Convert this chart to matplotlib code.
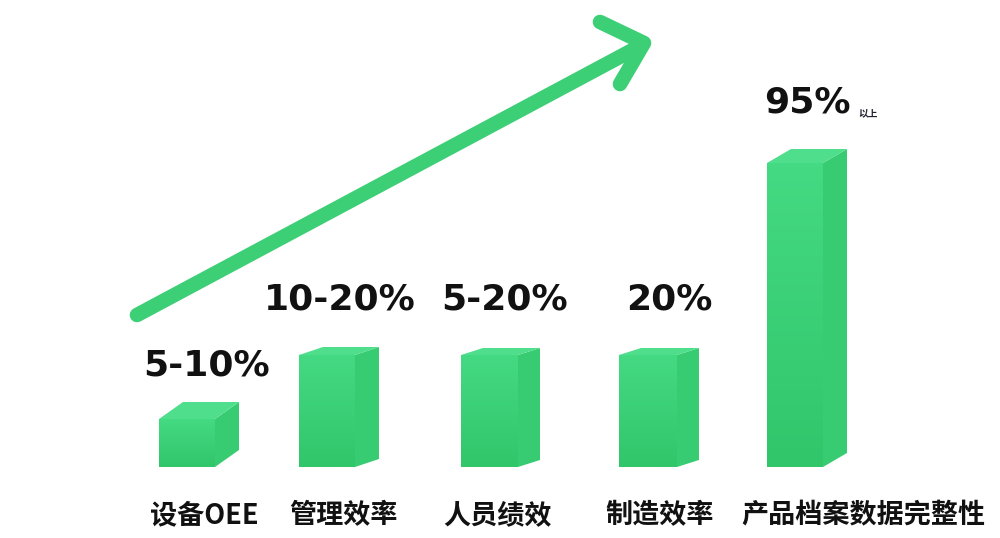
import matplotlib
matplotlib.use("Agg")
import matplotlib.pyplot as plt
from matplotlib.patches import Polygon
import numpy as np

plt.rcParams['font.family'] = ['Noto Sans CJK SC', 'DejaVu Sans']

# ---- data ----
categories = ["设备OEE", "管理效率", "人员绩效", "制造效率", "产品档案数据完整性"]
values = [15, 35, 35, 35, 95]          # relative bar heights
value_labels = ["5-10%", "10-20%", "5-20%", "20%", "95%"]
suffix_labels = ["", "", "", "", "以上"]

# ---- layout / style ----
W, H = 1000, 538
BASE = 467          # pixel row of bar bottoms
SCALE = 3.2         # pixels per value unit
bar_left = [159, 299, 461, 619, 767]
front_w = [56, 56, 57, 58, 56]
depth_dx = [24, 24, 22, 22, 24]
depth_dy = [17, 8, 7, 7, 14]
label_gap = [27, 37, 39, 38, 37]     # px between bar top and label baseline
cat_x = [204, 344, 498, 660, 863]
val_x = [207, 340, 505, 669, 807]
front_c = "#3ed67c"
top_c = "#4fde8b"
side_c = "#37cc72"
arrow_c = "#3ccf76"

fig = plt.figure(figsize=(W / 100, H / 100), dpi=100)
ax = fig.add_axes([0, 0, 1, 1])
ax.set_xlim(0, W)
ax.set_ylim(-(H - BASE) / SCALE, BASE / SCALE)
ax.axis("off")
fig.patch.set_facecolor("white")

def py(p):
    """pixel row -> data y"""
    return (BASE - p) / SCALE

cmap = matplotlib.colors.LinearSegmentedColormap.from_list("g", ["#31c66a", "#44da83"])

# bars
for i, v in enumerate(values):
    x0 = bar_left[i]
    x1 = x0 + front_w[i]
    dx = depth_dx[i]
    dy = depth_dy[i] / SCALE
    front = [(x0, 0), (x1, 0), (x1, v), (x0, v)]
    top = [(x0, v), (x1, v), (x1 + dx, v + dy), (x0 + dx, v + dy)]
    side = [(x1, 0), (x1 + dx, dy), (x1 + dx, v + dy), (x1, v)]
    ax.add_patch(Polygon(side, closed=True, facecolor=side_c, edgecolor="none", zorder=3))
    ax.add_patch(Polygon(top, closed=True, facecolor=top_c, edgecolor="none", zorder=3))
    grad = np.linspace(0, 1, 64).reshape(-1, 1)
    ax.imshow(grad, extent=(x0, x1, 0, v), aspect="auto", cmap=cmap,
              origin="lower", zorder=3.5, interpolation="bilinear")

# value labels
for i, v in enumerate(values):
    ytop = v + depth_dy[i] / SCALE
    yb = ytop + label_gap[i] / SCALE
    ax.text(val_x[i], yb, value_labels[i], ha="center", va="baseline",
            fontsize=26, fontweight="bold", family="DejaVu Sans", color="#111111", zorder=5)
    if suffix_labels[i]:
        ax.text(val_x[i] + 51, yb - 4 / SCALE, suffix_labels[i], ha="left", va="baseline",
                fontsize=7, fontweight="bold", color="#222233", zorder=5)

# category labels
for i, c in enumerate(categories):
    ax.text(cat_x[i], py(515), c, ha="center", va="center",
            fontsize=19.5, fontweight="bold", color="#111111", zorder=5)

# arrow
ax.plot([137, 642], [py(315), py(45)], color=arrow_c, lw=10.5, solid_capstyle="round", zorder=2)
ax.plot([600, 644, 620], [py(22), py(43), py(84)], color=arrow_c, lw=10.5,
        solid_capstyle="round", solid_joinstyle="round", zorder=2)

ax.set_xlim(0, W)
ax.set_ylim(-(H - BASE) / SCALE, BASE / SCALE)

fig.savefig("out.png", dpi=100, facecolor="white")
